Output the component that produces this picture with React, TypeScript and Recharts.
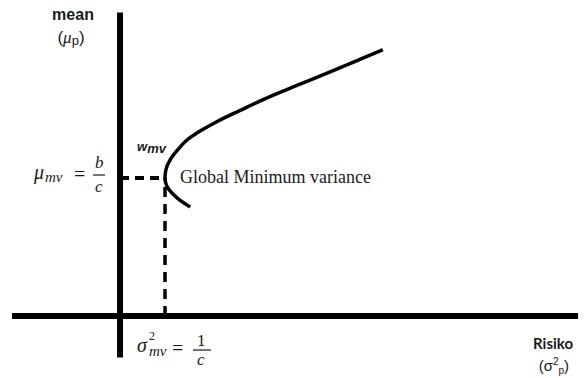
import React from 'react';
import { ComposedChart, Line, XAxis, YAxis, ReferenceLine, ReferenceDot } from 'recharts';

// Efficient frontier in (variance, mean) space
const frontierRisk = [1.56, 1.33, 1.16, 1.04, 1.0, 1.02, 1.11, 1.27, 1.47, 1.78, 2.16, 2.67, 3.33, 4.0, 4.67, 5.33, 5.84];
const frontierMean = [0.79, 0.84, 0.89, 0.94, 1.0, 1.06, 1.13, 1.2, 1.27, 1.34, 1.41, 1.49, 1.59, 1.68, 1.77, 1.86, 1.93];

// Global minimum-variance portfolio: sigma^2 = 1/c, mu = b/c
const sigma2Mv = 1;
const muMv = 1;

// Extent of the drawn coordinate axes
const xAxisExtent = [-2.4, 10.18];
const yAxisExtent = [-0.3, 2.2];

// Visible window of the diagram
const xView = [-2.667, 10.378];
const yView = [-0.449, 2.29];

const frontier = frontierRisk.map((risk, i) => ({ risk, mean: frontierMean[i] }));

const W = 587;
const H = 378;

const serif = '"Liberation Serif", "Times New Roman", serif';
const sans = '"Liberation Sans", Arial, sans-serif';
const ink = '#1a1a1a';

type LabelProps = { viewBox?: { x?: number; y?: number } };

const at = (p: LabelProps) => ({ x: p.viewBox?.x ?? 0, y: p.viewBox?.y ?? 0 });

// "mean (μp)" over the vertical axis
const MeanTitle = (p: LabelProps) => {
  const { x, y } = at(p);
  return (
    <g fill={ink}>
      <text x={x - 47} y={y + 8} textAnchor="middle" fontFamily={sans} fontWeight="bold" fontSize={16}>mean</text>
      <text x={x - 49} y={y + 31} textAnchor="middle" fontFamily={sans} fontSize={17}>
        (<tspan fontStyle="italic" fontFamily={serif}>μ</tspan>
        <tspan fontSize={13} dy={2}>p</tspan>
        <tspan dy={-2}>)</tspan>
      </text>
    </g>
  );
};

// "Risiko (σ²p)" under the end of the horizontal axis
const RiskTitle = (p: LabelProps) => {
  const { x, y } = at(p);
  return (
    <g fill={ink}>
      <text x={x - 5} y={y + 33} textAnchor="end" fontFamily='Lato, sans-serif' fontWeight="bold" fontSize={15}>Risiko</text>
      <text x={x - 9} y={y + 55} textAnchor="end" fontFamily={sans} fontSize={15}>
        (σ<tspan fontSize={10} dy={-6}>2</tspan>
        <tspan fontSize={10} dy={9}>p</tspan>
        <tspan dy={-3}>)</tspan>
      </text>
    </g>
  );
};

// μmv = b/c beside the vertical axis
const MuLabel = (p: LabelProps) => {
  const { x, y } = at(p);
  return (
    <g fill={ink} fontFamily={serif}>
      <text x={x - 86} y={y + 1} fontStyle="italic" fontSize={20}>μ</text>
      <text x={x - 75} y={y + 4} fontStyle="italic" fontSize={15}>mv</text>
      <text x={x - 46} y={y + 3} fontSize={20}>=</text>
      <text x={x - 25} y={y - 10} fontStyle="italic" fontSize={17}>b</text>
      <line x1={x - 27} x2={x - 15} y1={y - 3} y2={y - 3} stroke={ink} strokeWidth={1.2} />
      <text x={x - 25} y={y + 14} fontStyle="italic" fontSize={17}>c</text>
    </g>
  );
};

// σ²mv = 1/c under the horizontal axis
const SigmaLabel = (p: LabelProps) => {
  const { x, y } = at(p);
  return (
    <g fill={ink} fontFamily={serif}>
      <text x={x - 28} y={y + 36} fontStyle="italic" fontSize={20}>σ</text>
      <text x={x - 16} y={y + 24} fontSize={12}>2</text>
      <text x={x - 16} y={y + 40} fontStyle="italic" fontSize={15}>mv</text>
      <text x={x + 7} y={y + 39} fontSize={20}>=</text>
      <text x={x + 32} y={y + 30} fontSize={17}>1</text>
      <line x1={x + 28} x2={x + 46} y1={y + 34} y2={y + 34} stroke={ink} strokeWidth={1.2} />
      <text x={x + 32} y={y + 49} fontStyle="italic" fontSize={17}>c</text>
    </g>
  );
};

// wmv and the caption at the vertex of the frontier
const VertexLabel = (p: LabelProps) => {
  const { x, y } = at(p);
  return (
    <g fill={ink}>
      <text x={x - 28} y={y - 27} fontFamily={sans} fontStyle="italic" fontWeight="bold" fontSize={13}>
        w<tspan dy={2}>mv</tspan>
      </text>
      <text x={x + 15} y={y + 5} fontFamily={serif} fontSize={18}>Global Minimum variance</text>
    </g>
  );
};

export default function App() {
  return (
    <div style={{ position: 'absolute', left: 0, top: 0, width: W, height: H, background: '#fff' }}>
      <ComposedChart width={W} height={H} data={frontier} margin={{ top: 0, right: 0, bottom: 0, left: 0 }}>
        <XAxis type="number" dataKey="risk" domain={xView} hide allowDataOverflow />
        <YAxis type="number" dataKey="mean" domain={yView} hide allowDataOverflow />

        {/* guides to the minimum-variance point */}
        <ReferenceLine
          segment={[{ x: 0, y: muMv }, { x: sigma2Mv, y: muMv }]}
          stroke="#000" strokeWidth={4} strokeDasharray="9 6"
        />
        <ReferenceLine
          segment={[{ x: sigma2Mv, y: 0 }, { x: sigma2Mv, y: muMv }]}
          stroke="#000" strokeWidth={3.5} strokeDasharray="10 7"
        />

        {/* coordinate axes */}
        <ReferenceLine
          segment={[{ x: 0, y: yAxisExtent[0] }, { x: 0, y: yAxisExtent[1] }]}
          stroke="#000" strokeWidth={6}
        />
        <ReferenceLine
          segment={[{ x: xAxisExtent[0], y: 0 }, { x: xAxisExtent[1], y: 0 }]}
          stroke="#000" strokeWidth={6}
        />

        <Line
          type="monotoneY" dataKey="mean" stroke="#000" strokeWidth={3.5}
          dot={false} activeDot={false} isAnimationActive={false}
        />

        <ReferenceDot x={0} y={yAxisExtent[1]} r={0} fill="none" stroke="none" label={MeanTitle} />
        <ReferenceDot x={xAxisExtent[1]} y={0} r={0} fill="none" stroke="none" label={RiskTitle} />
        <ReferenceDot x={0} y={muMv} r={0} fill="none" stroke="none" label={MuLabel} />
        <ReferenceDot x={sigma2Mv} y={0} r={0} fill="none" stroke="none" label={SigmaLabel} />
        <ReferenceDot x={sigma2Mv} y={muMv} r={0} fill="none" stroke="none" label={VertexLabel} />
      </ComposedChart>
    </div>
  );
}
